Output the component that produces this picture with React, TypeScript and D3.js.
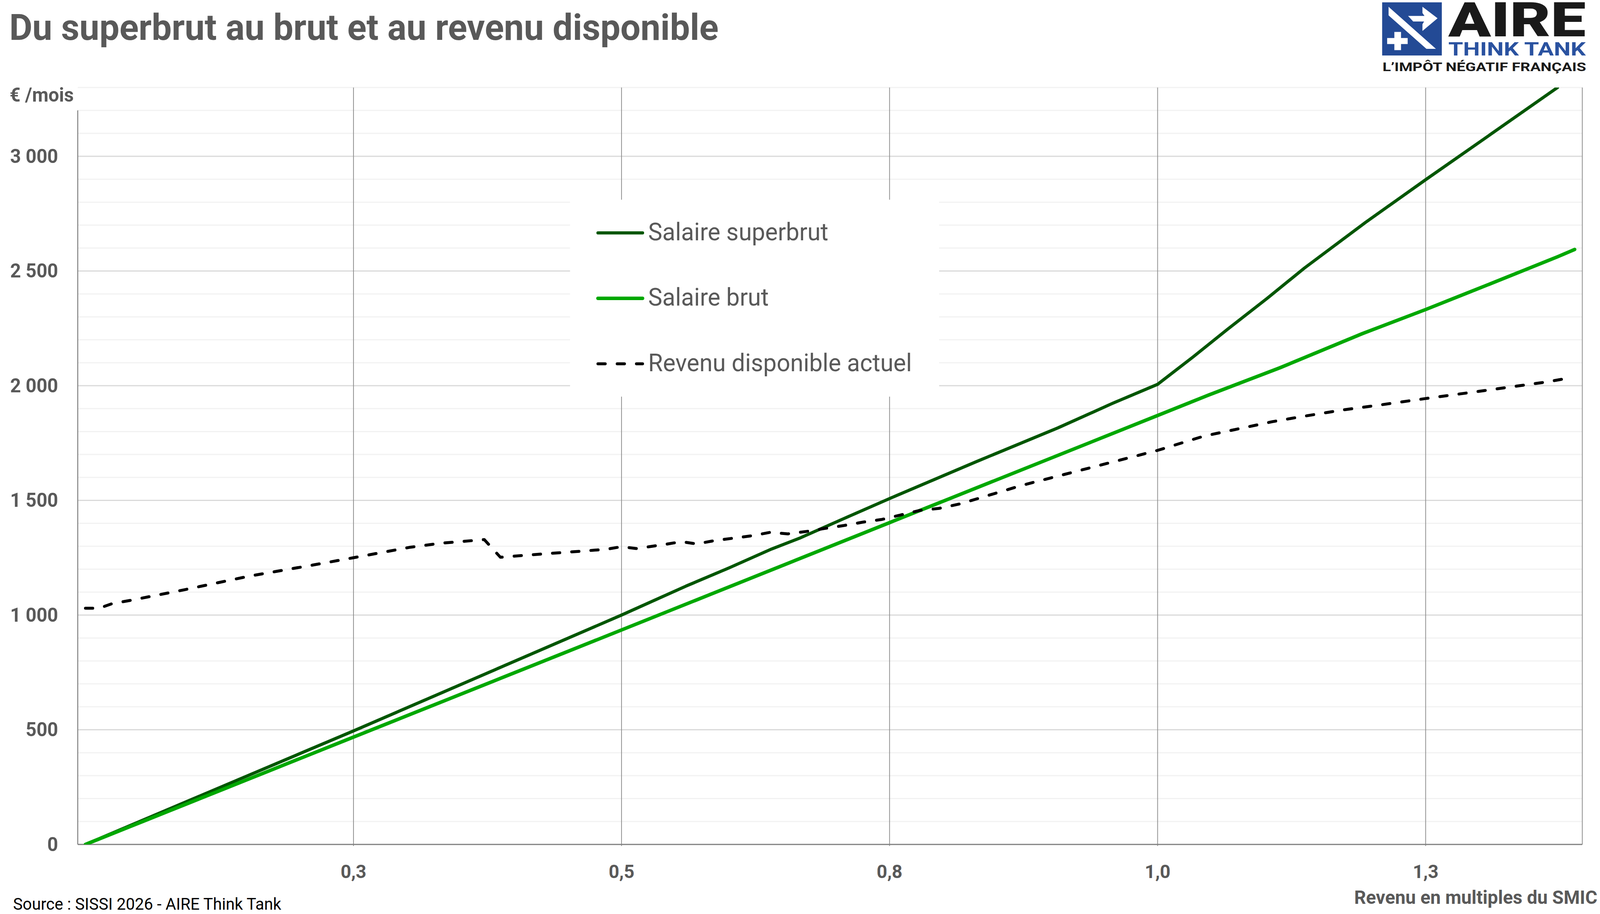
import { useEffect, useMemo } from "react";
import * as d3 from "d3";

// Revenu en multiples du SMIC (x) / € par mois (y)
const SUPERBRUT_X = [0, 0.25, 0.5, 0.56, 0.6, 0.64, 0.667, 0.709, 0.75, 0.83, 0.907, 0.958, 1.0, 1.033, 1.065, 1.102, 1.137, 1.194, 1.25, 1.307, 1.373];
const SUPERBRUT_Y = [0, 495, 1000, 1126, 1205, 1288, 1337, 1424, 1508, 1667, 1816, 1923, 2006, 2125, 2245, 2380, 2513, 2712, 2898, 3084, 3300];

const BRUT_X = [0, 0.25, 0.5, 0.75, 1.0, 1.048, 1.114, 1.191, 1.25, 1.307, 1.373, 1.389];
const BRUT_Y = [0, 468, 935, 1403, 1870, 1960, 2078, 2227, 2332, 2438, 2562, 2594];

const DISPO_X = [0, 0.013, 0.025, 0.043, 0.093, 0.153, 0.212, 0.25, 0.302, 0.331, 0.372, 0.387, 0.425, 0.461, 0.486, 0.5, 0.514, 0.539, 0.556, 0.57, 0.586, 0.604, 0.622, 0.639, 0.655, 0.675, 0.69, 0.707, 0.725, 0.743, 0.76, 0.778, 0.796, 0.816, 0.873, 0.937, 1.0, 1.043, 1.107, 1.134, 1.171, 1.206, 1.25, 1.307, 1.364, 1.384];
const DISPO_Y = [1030, 1030, 1050, 1065, 1111, 1170, 1218, 1250, 1295, 1313, 1329, 1252, 1266, 1278, 1287, 1298, 1290, 1307, 1320, 1310, 1324, 1335, 1346, 1361, 1354, 1366, 1378, 1390, 1405, 1417, 1436, 1456, 1465, 1485, 1565, 1642, 1718, 1780, 1843, 1865, 1893, 1915, 1944, 1980, 2017, 2034];

const SERIES_NAMES = ["Salaire superbrut", "Salaire brut", "Revenu disponible actuel"];
const X_TICKS = [0.25, 0.5, 0.75, 1.0, 1.25];
const Y_TICKS = [0, 500, 1000, 1500, 2000, 2500, 3000];

const TITLE = "Du superbrut au brut et au revenu disponible";
const Y_TITLE = "€ /mois";
const X_TITLE = "Revenu en multiples du SMIC";
const SOURCE = "Source : SISSI 2026 - AIRE Think Tank";

const W = 4157;
const H = 2339;
const FONT = "Roboto, 'Liberation Sans', Arial, sans-serif";
const GREY = "#595959";
const DARK_GREEN = "#005600";
const LIGHT_GREEN = "#00a800";

const frLocale = d3.formatLocale({
  decimal: ",",
  thousands: " ",
  grouping: [3],
  currency: ["", " €"],
});
const fmtX = frLocale.format(".1f");
const fmtY = frLocale.format(",d");

type Pt = [number, number];
const zip = (xs: number[], ys: number[]): Pt[] => xs.map((x, i) => [x, ys[i]]);

function Logo() {
  return (
    <g>
      <rect x={3591} y={6} width={155} height={136} fill="#234a95" />
      <polygon points="3607.7,17.3 3730.7,125 3706,125 3607.7,39.3" fill="#fff" />
      <polygon
        points="3658.3,40.7 3701,40.7 3695.7,33.3 3695.7,17.3 3735,46.7 3695.7,79.3 3695.7,62 3700,55 3671.7,55"
        fill="#fff"
      />
      <rect x={3622.7} y={81.7} width={17.3} height={46.6} fill="#fff" />
      <rect x={3604} y={97.3} width={53.3} height={15.4} fill="#fff" />
      <text x={3763} y={93} fontFamily={FONT} fontWeight={900} fontSize={122} fill="#1a1a1a" textLength={357} lengthAdjust="spacingAndGlyphs">
        AIRE
      </text>
      <text x={3763} y={142} fontFamily={FONT} fontWeight={700} fontSize={48} fill="#2a52a0" textLength={357} lengthAdjust="spacingAndGlyphs">
        THINK TANK
      </text>
      <text x={3592} y={182} fontFamily={FONT} fontWeight={700} fontSize={32} fill="#1a1a1a" textLength={529} lengthAdjust="spacingAndGlyphs">
        L’IMPÔT NÉGATIF FRANÇAIS
      </text>
    </g>
  );
}

export default function App() {
  useEffect(() => {
    document.body.style.margin = "0";
    document.body.style.overflow = "hidden";
  }, []);

  const left = 202;
  const right = 4111;
  const x = useMemo(
    () => d3.scaleLinear().domain([0, 1.25]).range([222, 3704]),
    []
  );
  const y = useMemo(
    () => d3.scaleLinear().domain([0, 3300]).range([2161, 2161 - 3300 * 0.587]),
    []
  );
  const top = y(3300);

  const line = d3
    .line<Pt>()
    .x((d) => x(d[0]))
    .y((d) => y(d[1]));

  const minorTicks = d3.range(100, 3301, 100).filter((v) => v % 500 !== 0);
  const majorTicks = Y_TICKS.filter((v) => v > 0);

  const series = [
    { name: SERIES_NAMES[0], data: zip(SUPERBRUT_X, SUPERBRUT_Y), color: DARK_GREEN, width: 8, dash: undefined },
    { name: SERIES_NAMES[1], data: zip(BRUT_X, BRUT_Y), color: LIGHT_GREEN, width: 9, dash: undefined },
    { name: SERIES_NAMES[2], data: zip(DISPO_X, DISPO_Y), color: "#000", width: 7.5, dash: "19 31" },
  ];

  return (
    <svg
      viewBox={`0 0 ${W} ${H}`}
      preserveAspectRatio="none"
      style={{ position: "fixed", left: 0, top: 0, width: "100vw", height: "100vh", background: "#fff", display: "block" }}
    >
      <defs>
        <clipPath id="plot-clip">
          <rect x={left} y={top} width={right - left} height={y(0) - top} />
        </clipPath>
      </defs>
      <rect width={W} height={H} fill="#fff" />

      <text x={24} y={102} fontFamily={FONT} fontWeight={700} fontSize={93} fill={GREY} textLength={1843} lengthAdjust="spacingAndGlyphs">
        {TITLE}
      </text>
      <Logo />

      {/* horizontal gridlines */}
      {minorTicks.map((v) => (
        <line key={`mn${v}`} x1={left} x2={right} y1={y(v)} y2={y(v)} stroke="#f2f2f2" strokeWidth={3} />
      ))}
      {majorTicks.map((v) => (
        <line key={`mj${v}`} x1={left} x2={right} y1={y(v)} y2={y(v)} stroke="#d9d9d9" strokeWidth={3} />
      ))}

      {/* vertical gridlines */}
      {X_TICKS.map((v) => (
        <line key={`vx${v}`} x1={x(v)} x2={x(v)} y1={top} y2={y(0) + 4} stroke="#8f8f8f" strokeWidth={2} />
      ))}
      <line x1={right} x2={right} y1={top} y2={y(0)} stroke="#8c8c8c" strokeWidth={2} />

      {/* axes */}
      <line x1={left} x2={left} y1={y(3200)} y2={y(0)} stroke="#7f7f7f" strokeWidth={2.5} />
      <line x1={left} x2={right} y1={y(0)} y2={y(0)} stroke="#7f7f7f" strokeWidth={3} />

      {/* legend box hides the grid behind it */}
      <rect x={1481} y={511} width={959} height={504} fill="#fff" />
      {series.map((s, i) => {
        const ly = 596 + i * 167.5;
        return (
          <g key={s.name}>
            <line
              x1={1553.5}
              x2={1669.5}
              y1={ly}
              y2={ly}
              stroke={s.color}
              strokeWidth={s.width}
              strokeLinecap="round"
              strokeDasharray={s.dash}
            />
            <text x={1684} y={ly + 19} fontFamily={FONT} fontSize={62} fill={GREY}>
              {s.name}
            </text>
          </g>
        );
      })}

      {/* series */}
      <g clipPath="url(#plot-clip)">
        {series.map((s) => (
          <path
            key={s.name}
            d={line(s.data) ?? ""}
            fill="none"
            stroke={s.color}
            strokeWidth={s.width}
            strokeLinecap="round"
            strokeLinejoin="round"
            strokeDasharray={s.dash}
          />
        ))}
      </g>

      {/* tick labels */}
      {Y_TICKS.map((v) => (
        <text key={`ty${v}`} x={151} y={y(v) + 17} textAnchor="end" fontFamily={FONT} fontWeight={700} fontSize={49} fill={GREY}>
          {fmtY(v)}
        </text>
      ))}
      {X_TICKS.map((v) => (
        <text key={`tx${v}`} x={x(v)} y={2247} textAnchor="middle" fontFamily={FONT} fontWeight={700} fontSize={48} fill={GREY}>
          {fmtX(v)}
        </text>
      ))}

      <text x={25} y={260} fontFamily={FONT} fontWeight={700} fontSize={49} fill={GREY}>
        {Y_TITLE}
      </text>
      <text x={4150} y={2313} textAnchor="end" fontFamily={FONT} fontWeight={700} fontSize={48} fill={GREY}>
        {X_TITLE}
      </text>
      <text x={34} y={2328} fontFamily={FONT} fontSize={42} fill="#000">
        {SOURCE}
      </text>
    </svg>
  );
}
